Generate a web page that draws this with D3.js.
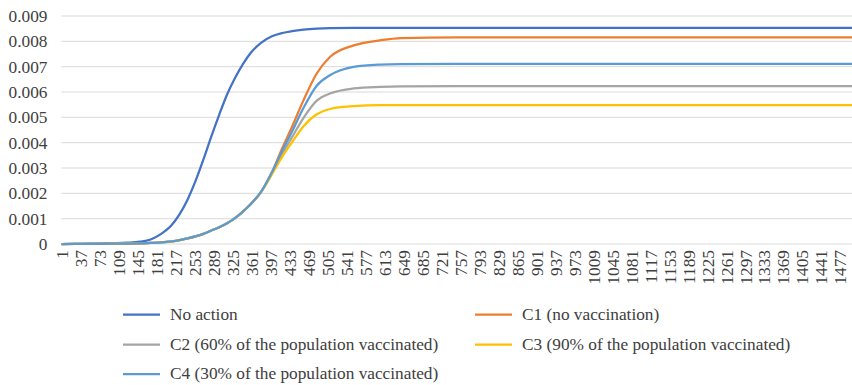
<!DOCTYPE html>
<html>
<head>
<meta charset="utf-8">
<script src="https://cdn.jsdelivr.net/npm/d3@7/dist/d3.min.js"></script>
<style>
  html, body { margin: 0; padding: 0; background: #fff; }
  svg { display: block; }
  text { font-family: "Liberation Serif", "Times New Roman", serif; fill: #404040; }
</style>
</head>
<body>
<svg id="chart" width="852" height="385"></svg>
<script>
// Days at which each curve is sampled
const days = [1, 50, 100, 125, 150, 170, 190, 210, 225, 240, 255, 270, 285, 300, 315, 330, 345, 360, 380, 400,
              420, 438, 460, 485, 510, 555, 605, 645, 750, 900, 1100, 1300, 1500];

const noAction = [0, 0.00001, 0.00003, 0.00005, 0.00009, 0.00018, 0.00040, 0.00075, 0.00118, 0.00175, 0.00248, 0.00333, 0.00424, 0.00510, 0.00590, 0.00655, 0.00710, 0.00755, 0.00795, 0.00820,
                  0.00833, 0.00840, 0.00846, 0.00850, 0.00852, 0.00853, 0.00853, 0.00853, 0.00853, 0.00853, 0.00853, 0.00853, 0.00853];
const c1 = [0, 0.000003, 0.00001, 0.000015, 0.00002, 0.00004, 0.00006, 0.0001, 0.00015, 0.00022, 0.0003, 0.0004, 0.00053, 0.00066, 0.00082, 0.00102, 0.00128, 0.00158, 0.00208, 0.00284,
            0.00380, 0.00462, 0.00568, 0.00673, 0.00738, 0.00784, 0.00804, 0.00813, 0.00816, 0.00816, 0.00816, 0.00816, 0.00816];
const c2 = [0, 0.000003, 0.00001, 0.000015, 0.00002, 0.00004, 0.00006, 0.0001, 0.00015, 0.00022, 0.0003, 0.0004, 0.00053, 0.00066, 0.00082, 0.00102, 0.00128, 0.00158, 0.00207, 0.00279,
            0.00357, 0.00421, 0.00498, 0.00566, 0.00594, 0.00614, 0.00620, 0.00622, 0.00623, 0.00623, 0.00623, 0.00623, 0.00623];
const c3 = [0, 0.000003, 0.00001, 0.000015, 0.00002, 0.00004, 0.00006, 0.0001, 0.00015, 0.00022, 0.0003, 0.0004, 0.00053, 0.00066, 0.00082, 0.00102, 0.00128, 0.00158, 0.00206, 0.00275,
            0.00346, 0.00401, 0.00465, 0.00512, 0.00533, 0.00544, 0.00548, 0.00548, 0.00548, 0.00548, 0.00548, 0.00548, 0.00548];
const c4 = [0, 0.000003, 0.00001, 0.000015, 0.00002, 0.00004, 0.00006, 0.0001, 0.00015, 0.00022, 0.0003, 0.0004, 0.00053, 0.00066, 0.00082, 0.00102, 0.00128, 0.00158, 0.00208, 0.00282,
            0.00370, 0.00443, 0.00538, 0.00625, 0.00666, 0.00699, 0.00708, 0.00710, 0.00711, 0.00711, 0.00711, 0.00711, 0.00711];

const seriesNames = ["No action", "C1 (no vaccination)", "C2 (60% of the population vaccinated)",
                     "C3 (90% of the population vaccinated)", "C4 (30% of the population vaccinated)"];
const seriesValues = [noAction, c1, c2, c3, c4];
const seriesColors = ["#4472C4", "#ED7D31", "#A5A5A5", "#FFC000", "#5B9BD5"];

const yTicks = [0, 0.001, 0.002, 0.003, 0.004, 0.005, 0.006, 0.007, 0.008, 0.009];
const yTickLabels = ["0", "0.001", "0.002", "0.003", "0.004", "0.005", "0.006", "0.007", "0.008", "0.009"];
const xTicks = d3.range(1, 1478, 36); // 1, 37, 73, ... 1477

const svg = d3.select("#chart");
const plotLeft = 61.5, plotRight = 852, plotTop = 16, plotBottom = 244;
const fontSize = "17.3px";

const x = d3.scaleLinear().domain([1, 1500]).range([plotLeft, plotRight]);
const y = d3.scaleLinear().domain([0, 0.009]).range([plotBottom, plotTop]);

// Horizontal gridlines
svg.append("g")
  .selectAll("line")
  .data(yTicks)
  .join("line")
  .attr("x1", plotLeft).attr("x2", plotRight)
  .attr("y1", d => y(d)).attr("y2", d => y(d))
  .attr("stroke", "#d9d9d9").attr("stroke-width", 1);

// Y axis labels
const yAxis = svg.append("g")
  .attr("transform", `translate(${plotLeft - 14},0)`)
  .call(d3.axisLeft(y).tickValues(yTicks).tickSize(0)
        .tickFormat((d, i) => yTickLabels[i]));
yAxis.select(".domain").remove();
yAxis.selectAll("text")
  .attr("x", 0)
  .style("font-size", fontSize)
  .style("font-family", "\"Liberation Serif\", serif")
  .attr("fill", "#404040");

// X axis labels, rotated
const xAxis = svg.append("g")
  .attr("transform", `translate(0,${plotBottom})`)
  .call(d3.axisBottom(x).tickValues(xTicks).tickSize(0).tickFormat(d3.format("d")));
xAxis.select(".domain").remove();
xAxis.selectAll("text")
  .attr("transform", "rotate(-90)")
  .attr("x", -6)
  .attr("y", 0)
  .attr("dy", "0.35em")
  .attr("text-anchor", "end")
  .style("font-size", fontSize)
  .style("font-family", "\"Liberation Serif\", serif")
  .attr("fill", "#404040");

// Series lines
const line = d3.line()
  .x(d => x(d[0]))
  .y(d => y(d[1]))
  .curve(d3.curveMonotoneX);

svg.append("g")
  .selectAll("path")
  .data(seriesValues)
  .join("path")
  .attr("d", vals => line(days.map((d, i) => [d, vals[i]])))
  .attr("fill", "none")
  .attr("stroke", (d, i) => seriesColors[i])
  .attr("stroke-width", 2.25)
  .attr("stroke-linejoin", "round");

// Legend: two columns, three rows
const legendPos = [[0, 0], [1, 0], [0, 1], [1, 1], [0, 2]];
const colX = [123, 475];
const rowY = [314.5, 344.5, 374];
const legend = svg.append("g")
  .selectAll("g")
  .data(seriesNames)
  .join("g")
  .attr("transform", (d, i) => `translate(${colX[legendPos[i][0]]},${rowY[legendPos[i][1]]})`);
legend.append("line")
  .attr("x1", 0).attr("x2", 37)
  .attr("stroke", (d, i) => seriesColors[i])
  .attr("stroke-width", 2.25);
legend.append("text")
  .attr("x", 47)
  .attr("dy", "0.3em")
  .style("font-size", fontSize)
  .attr("fill", "#404040")
  .text(d => d);
</script>
</body>
</html>
